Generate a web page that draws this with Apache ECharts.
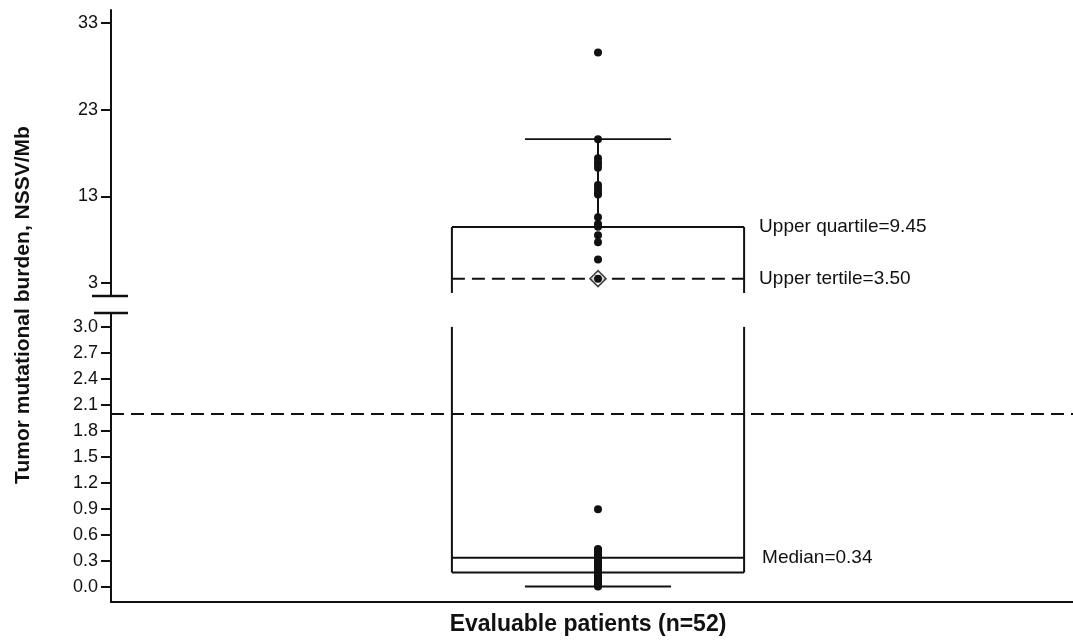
<!DOCTYPE html>
<html>
<head>
<meta charset="utf-8">
<script src="https://cdn.jsdelivr.net/npm/echarts@6/dist/echarts.min.js"></script>
<style>
  html, body { margin: 0; padding: 0; background: #fff; }
  #chart { width: 1073px; height: 640px; }
</style>
</head>
<body>
<div id="chart"></div>
<script>
// Tumor mutational burden (NSSV/Mb) for each evaluable patient
const categories = ['Evaluable patients (n=52)'];
const tmbValues = [
  29.6, 19.6, 17.4, 17.0, 16.7, 16.3, 14.3, 13.9, 13.5, 13.2, 10.6, 9.8, 9.5,
  8.5, 7.7, 5.7, 3.5, 0.90,
  0.44, 0.43, 0.41, 0.40, 0.39, 0.37, 0.36, 0.34, 0.34, 0.33, 0.32, 0.31,
  0.30, 0.28, 0.27, 0.26, 0.24, 0.23, 0.21, 0.20, 0.18, 0.17, 0.15, 0.13,
  0.12, 0.10, 0.09, 0.08, 0.06, 0.05, 0.04, 0.03, 0.02, 0.01
];
// Box summary: lower whisker, lower quartile, median, upper tertile, upper quartile, upper whisker
const boxStats = [0.01, 0.17, 0.34, 3.50, 9.45, 19.6];
const statLabels = ['Median=0.34', 'Upper tertile=3.50', 'Upper quartile=9.45'];
const cutoffValue = 2.0;
// Tick labels for the two axis segments
const upperTicks = [3, 13, 23, 33];
const lowerTicks = [0.0, 0.3, 0.6, 0.9, 1.2, 1.5, 1.8, 2.1, 2.4, 2.7, 3.0];

// Axis break: lower segment shows 0-3, upper segment 3-33
const BREAK_VALUE = 3;
const UPPER_BOX_FLOOR = 1.85;
const LOWER_BOX_CEIL = 3.0;

const FONT = '"Liberation Sans", Arial, Helvetica, sans-serif';
const INK = '#111';

const [wLow, q1, med, tertile, q3, wHigh] = boxStats;
const upperPoints = tmbValues.filter(v => v >= BREAK_VALUE).map(v => [0, v]);
const lowerPoints = tmbValues.filter(v => v < BREAK_VALUE).map(v => [0, v]);

function hLine(x1, x2, y, style) {
  return { type: 'line', shape: { x1, y1: y, x2, y2: y }, style };
}
function vLine(x, y1, y2, style) {
  return { type: 'line', shape: { x1: x, y1, x2: x, y2 }, style };
}
function label(text, x, y) {
  return {
    type: 'text',
    style: { text, x, y, fill: INK, fontSize: 19, fontFamily: FONT, verticalAlign: 'middle', align: 'left' }
  };
}
const solid = { stroke: INK, lineWidth: 2 };
const thin = { stroke: INK, lineWidth: 1.6 };
const dashed = { stroke: INK, lineWidth: 2, lineDash: [13, 7] };
const breakStyle = { stroke: INK, lineWidth: 2.5 };

// Upper segment of the box: upper quartile, tertile, whisker, cap
function renderUpper(params, api) {
  const band = api.size([1, 0])[0];
  const cx = api.coord([0, q3])[0];
  const half = band * 0.15, capHalf = band * 0.075;
  const yQ3 = api.coord([0, q3])[1];
  const yTer = api.coord([0, tertile])[1];
  const yHigh = api.coord([0, wHigh])[1];
  const yFloor = api.coord([0, UPPER_BOX_FLOOR])[1];
  const cs = params.coordSys;
  const yEdge = cs.y + cs.height;
  return {
    type: 'group',
    children: [
      hLine(cx - capHalf, cx + capHalf, yHigh, thin),
      vLine(cx, yHigh, yQ3, solid),
      hLine(cx - half, cx + half, yQ3, solid),
      vLine(cx - half, yQ3, yFloor, solid),
      vLine(cx + half, yQ3, yFloor, solid),
      hLine(cx - half, cx + half, yTer, dashed),
      label(statLabels[2], cx + half + 15, yQ3),
      label(statLabels[1], cx + half + 15, yTer),
      hLine(cs.x - 19, cs.x + 17, yEdge, breakStyle)
    ]
  };
}

// Lower segment of the box: sides, lower quartile, median, lower whisker
function renderLower(params, api) {
  const band = api.size([1, 0])[0];
  const cx = api.coord([0, q1])[0];
  const half = band * 0.15, capHalf = band * 0.075;
  const yQ1 = api.coord([0, q1])[1];
  const yMed = api.coord([0, med])[1];
  const yLow = api.coord([0, wLow])[1];
  const yCeil = api.coord([0, LOWER_BOX_CEIL])[1];
  const cs = params.coordSys;
  return {
    type: 'group',
    children: [
      vLine(cx - half, yCeil, yQ1, solid),
      vLine(cx + half, yCeil, yQ1, solid),
      hLine(cx - half, cx + half, yQ1, solid),
      hLine(cx - half, cx + half, yMed, solid),
      vLine(cx, yQ1, yLow, solid),
      hLine(cx - capHalf, cx + capHalf, yLow, solid),
      label(statLabels[0], cx + half + 18, yMed),
      hLine(cs.x - 17, cs.x + 17, cs.y, breakStyle)
    ]
  };
}

const axisLineStyle = { show: true, onZero: false, lineStyle: { color: INK, width: 2 } };
const tickStyle = { show: true, length: 10, lineStyle: { color: INK, width: 2 } };
const labelStyle = { color: INK, fontSize: 18, fontFamily: FONT, margin: 13 };

const chart = echarts.init(document.getElementById('chart'), null, { renderer: 'canvas' });
chart.setOption({
  animation: false,
  backgroundColor: '#fff',
  grid: [
    { left: 111, width: 974, top: 10, height: 286, outerBoundsMode: 'none' },
    { left: 111, width: 974, top: 313, height: 289, outerBoundsMode: 'none' }
  ],
  xAxis: [
    { type: 'category', gridIndex: 0, data: categories, show: false },
    {
      type: 'category', gridIndex: 1, data: categories,
      axisLine: axisLineStyle, axisTick: { show: false }, axisLabel: { show: false },
      name: categories[0], nameLocation: 'middle', nameGap: 11,
      nameTextStyle: { color: INK, fontSize: 23, fontWeight: 'bold', fontFamily: FONT, padding: [0, 20, 0, 0] }
    }
  ],
  yAxis: [
    {
      type: 'value', gridIndex: 0, min: 1.5, max: 34.5,
      axisLine: axisLineStyle,
      axisTick: Object.assign({ customValues: upperTicks }, tickStyle),
      axisLabel: Object.assign({ customValues: upperTicks, formatter: v => String(v) }, labelStyle),
      splitLine: { show: false }
    },
    {
      type: 'value', gridIndex: 1, min: -0.17, max: 3.16,
      axisLine: axisLineStyle,
      axisTick: Object.assign({ customValues: lowerTicks }, tickStyle),
      axisLabel: Object.assign({ customValues: lowerTicks, formatter: v => v.toFixed(1) }, labelStyle),
      splitLine: { show: false }
    }
  ],
  graphic: [{
    type: 'text', x: 23, y: 305, rotation: Math.PI / 2,
    style: {
      text: 'Tumor mutational burden, NSSV/Mb', fill: INK, fontSize: 21, fontWeight: 'bold',
      fontFamily: FONT, align: 'center', verticalAlign: 'middle'
    }
  }],
  series: [
    { type: 'custom', xAxisIndex: 0, yAxisIndex: 0, data: [[0, q3]], renderItem: renderUpper, z: 2, silent: true },
    { type: 'custom', xAxisIndex: 1, yAxisIndex: 1, data: [[0, q1]], renderItem: renderLower, z: 2, silent: true },
    {
      type: 'scatter', xAxisIndex: 0, yAxisIndex: 0, data: [[0, tertile]],
      symbol: 'diamond', symbolSize: 16,
      itemStyle: { color: '#fff', borderColor: INK, borderWidth: 1.6 }, z: 3, silent: true
    },
    {
      type: 'scatter', xAxisIndex: 0, yAxisIndex: 0, data: upperPoints,
      symbol: 'circle', symbolSize: 8, itemStyle: { color: INK, opacity: 1 }, z: 4, silent: true
    },
    {
      type: 'scatter', xAxisIndex: 1, yAxisIndex: 1, data: lowerPoints,
      symbol: 'circle', symbolSize: 8, itemStyle: { color: INK, opacity: 1 }, z: 4, silent: true,
      markLine: {
        silent: true, symbol: 'none', label: { show: false },
        lineStyle: { color: INK, width: 2, type: [13, 7] },
        data: [{ yAxis: cutoffValue }]
      }
    }
  ]
});
</script>
</body>
</html>
